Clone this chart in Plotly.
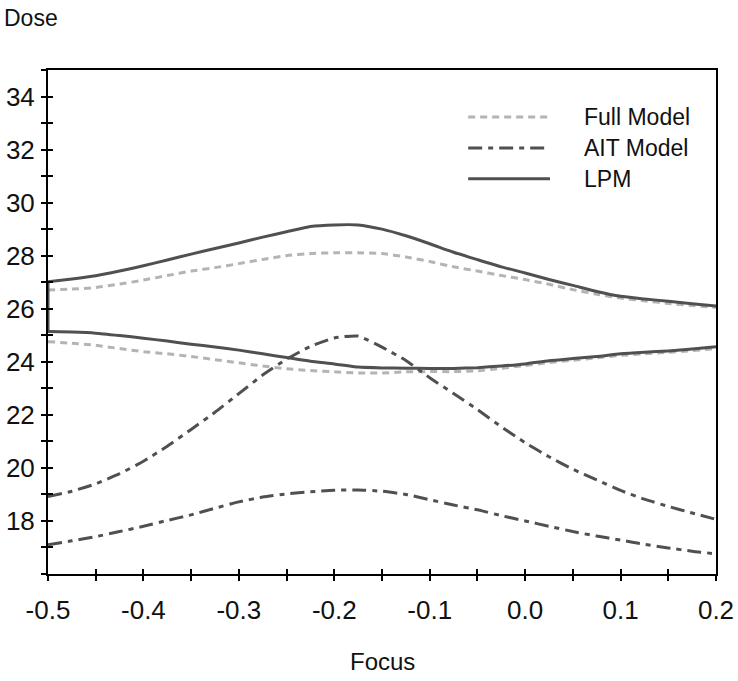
import plotly.graph_objects as go

# ---- data ----
focus = [-0.5, -0.475, -0.45, -0.425, -0.4, -0.375, -0.35, -0.325, -0.3, -0.275,
         -0.25, -0.225, -0.2, -0.175, -0.15, -0.125, -0.1, -0.075, -0.05, -0.025,
         0.0, 0.025, 0.05, 0.075, 0.1, 0.125, 0.15, 0.175, 0.2]

full_upper = [26.71, 26.74, 26.80, 26.93, 27.08, 27.25, 27.42, 27.55, 27.70, 27.86,
              28.00, 28.08, 28.11, 28.11, 28.08, 27.95, 27.78, 27.58, 27.42, 27.25,
              27.10, 26.92, 26.72, 26.55, 26.40, 26.30, 26.20, 26.12, 26.05]
full_lower = [24.76, 24.70, 24.62, 24.50, 24.38, 24.30, 24.20, 24.08, 23.96, 23.84,
              23.74, 23.67, 23.62, 23.58, 23.58, 23.62, 23.63, 23.63, 23.66, 23.75,
              23.86, 23.97, 24.06, 24.15, 24.24, 24.30, 24.36, 24.42, 24.50]

ait_upper = [18.92, 19.12, 19.40, 19.78, 20.25, 20.82, 21.45, 22.10, 22.80, 23.50,
             24.10, 24.58, 24.90, 24.97, 24.55, 24.05, 23.40, 22.80, 22.20, 21.55,
             20.95, 20.42, 19.95, 19.55, 19.15, 18.82, 18.55, 18.30, 18.06]
ait_lower = [17.10, 17.25, 17.41, 17.60, 17.80, 18.02, 18.23, 18.48, 18.72, 18.90,
             19.02, 19.10, 19.16, 19.17, 19.12, 19.00, 18.80, 18.60, 18.42, 18.20,
             18.00, 17.80, 17.60, 17.43, 17.28, 17.12, 16.98, 16.86, 16.76]

lpm_upper = [27.02, 27.12, 27.24, 27.42, 27.62, 27.84, 28.06, 28.27, 28.48, 28.70,
             28.90, 29.10, 29.16, 29.16, 29.00, 28.75, 28.45, 28.13, 27.85, 27.58,
             27.35, 27.10, 26.88, 26.65, 26.47, 26.37, 26.28, 26.19, 26.10]
lpm_lower = [25.14, 25.12, 25.08, 24.99, 24.89, 24.78, 24.66, 24.56, 24.44, 24.30,
             24.16, 24.02, 23.92, 23.80, 23.77, 23.76, 23.75, 23.75, 23.78, 23.84,
             23.92, 24.04, 24.12, 24.20, 24.30, 24.36, 24.41, 24.48, 24.57]

legend_names = ["Full Model", "AIT Model", "LPM"]
y_ticks = [18, 20, 22, 24, 26, 28, 30, 32, 34]
x_ticks = [-0.5, -0.4, -0.3, -0.2, -0.1, 0.0, 0.1, 0.2]

# ---- styles ----
DARK = "#505050"
LIGHT = "#b4b4b4"
FULL_DASH = "7px,5px"
AIT_DASH = "14px,6px,5px,6px"
FONT = "Liberation Sans, Arial, sans-serif"
FS = 23
TFS = 26

fig = go.Figure()

def add_line(x, y, color, dash, shape="spline"):
    fig.add_trace(go.Scatter(x=x, y=y, mode="lines", showlegend=False, hoverinfo="skip",
                             line=dict(color=color, width=3, dash=dash, shape=shape, smoothing=0.5)))

add_line(focus, full_upper, LIGHT, FULL_DASH)
add_line(focus, full_lower, LIGHT, FULL_DASH)
add_line(focus, ait_upper, DARK, AIT_DASH)
add_line(focus, ait_lower, DARK, AIT_DASH)
add_line(focus, lpm_upper, DARK, "solid")
add_line(focus, lpm_lower, DARK, "solid")
# closing edge of the LPM contour at the left boundary
add_line([focus[0], focus[0]], [lpm_upper[0], lpm_lower[0]], DARK, "solid", shape="linear")

# dummy trace for the overlay axes (inside ticks -> crossing ticks)
fig.add_trace(go.Scatter(x=[], y=[], xaxis="x2", yaxis="y2", showlegend=False))

XR = [-0.5, 0.2]
YR = [16, 35]

axis_common = dict(showgrid=False, zeroline=False, showline=True, linecolor="black", linewidth=2,
                   tickcolor="black", tickwidth=1.5, ticklen=5, automargin=False,
                   tickfont=dict(family=FONT, size=TFS, color="#111"))

fig.update_layout(
    width=738, height=681,
    margin=dict(l=48, r=22, t=70, b=107, autoexpand=False),
    paper_bgcolor="white", plot_bgcolor="white",
    xaxis=dict(range=XR, tickvals=x_ticks, ticktext=[f"{v:.1f}" for v in x_ticks],
               ticks="outside", mirror=True, ticklabelstandoff=7,
               minor=dict(dtick=0.05, tick0=0, ticks="outside", ticklen=5, tickcolor="black", tickwidth=1.5),
               **axis_common),
    yaxis=dict(range=YR, tickvals=y_ticks, ticktext=[str(v) for v in y_ticks],
               ticks="outside", mirror=True, ticklabelstandoff=1,
               minor=dict(dtick=1, tick0=0, ticks="outside", ticklen=5, tickcolor="black", tickwidth=1.5),
               **axis_common),
    xaxis2=dict(range=XR, overlaying="x", anchor="y2", side="bottom", showgrid=False, zeroline=False,
                showline=False, ticks="inside", ticklen=5, tickcolor="black", tickwidth=1.5,
                dtick=0.05, tick0=0, showticklabels=False, automargin=False),
    yaxis2=dict(range=YR, overlaying="y", anchor="x2", side="left", showgrid=False, zeroline=False,
                showline=False, ticks="inside", ticklen=5, tickcolor="black", tickwidth=1.5,
                dtick=1, tick0=0, showticklabels=False, automargin=False),
    showlegend=False,
)

# axis titles
fig.add_annotation(text="Dose", xref="paper", yref="paper", x=-0.069, y=1.103,
                   xanchor="left", yanchor="middle", showarrow=False,
                   font=dict(family=FONT, size=FS, color="#111"))
fig.add_annotation(text="Focus", xref="paper", yref="paper", x=0.5, y=-0.1746,
                   xanchor="center", yanchor="middle", showarrow=False,
                   font=dict(family=FONT, size=24, color="#111"))

# legend (drawn inside the plot, top right)
leg_styles = [(LIGHT, FULL_DASH), (DARK, AIT_DASH), (DARK, "solid")]
leg_rows = [0.9067, 0.845, 0.784]
for name, (col, dash), yy in zip(legend_names, leg_styles, leg_rows):
    fig.add_shape(type="line", xref="paper", yref="paper", x0=0.629, x1=0.7515, y0=yy, y1=yy,
                  line=dict(color=col, width=3, dash=dash))
    fig.add_annotation(text=name, xref="paper", yref="paper", x=0.8, y=yy,
                       xanchor="left", yanchor="middle", showarrow=False,
                       font=dict(family=FONT, size=FS, color="#111"))

fig.write_html("out.html")
